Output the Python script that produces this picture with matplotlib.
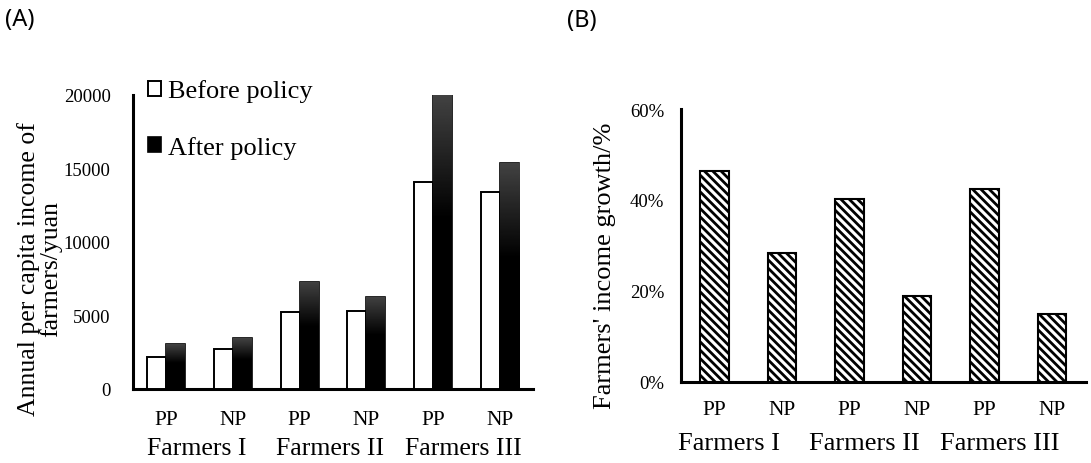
import numpy as np
import matplotlib.pyplot as plt
from matplotlib.ticker import PercentFormatter

# data
categories = ['PP', 'NP', 'PP', 'NP', 'PP', 'NP']
groups = ['Farmers I', 'Farmers II', 'Farmers III']
before = [2150, 2720, 5210, 5330, 14100, 13420]
after = [3060, 3450, 7300, 6280, 20000, 15350]
growth = [46.3, 28.3, 40.3, 18.8, 42.5, 14.9]

plt.rcParams['font.family'] = ['Liberation Serif', 'DejaVu Serif']
plt.rcParams['hatch.linewidth'] = 2.0

fig = plt.figure(figsize=(10.91, 4.64), dpi=100)
axA = fig.add_axes([133 / 1091, 74 / 464, 400 / 1091, 294 / 464])
axB = fig.add_axes([680.7 / 1091, 81.3 / 464, 405.3 / 1091, 272.7 / 464])

x = np.arange(len(categories))
w = 0.285

# ---- (A) income before / after
axA.bar(x - w / 2, before, w, color='white', edgecolor='black', linewidth=1.4,
        label='Before policy', zorder=3)
bars = axA.bar(x + w / 2, after, w, color='black', edgecolor='black', linewidth=1.2,
               label='After policy', zorder=3)

# dark gray -> black gradient on the "after" bars
t = np.linspace(0, 1, 200)[:, None]
grad = np.clip(0.26 * (1 - t / 0.42), 0, 1)
for b in bars:
    x0, y0 = b.get_x(), b.get_y()
    im = axA.imshow(grad, cmap='gray', vmin=0, vmax=1, aspect='auto', origin='upper',
                    extent=(x0, x0 + b.get_width(), y0, y0 + b.get_height()), zorder=3.5)
    im.set_clip_path(b)

axA.set_xlim(-0.5, 5.5)
axA.set_ylim(0, 20000)
axA.set_yticks([0, 5000, 10000, 15000, 20000])
axA.set_xticks(x, categories)
axA.set_ylabel('Annual per capita income of\nfarmers/yuan', fontsize=18.5, linespacing=0.95)
axA.yaxis.set_label_coords(-0.178, 0.41)

leg = axA.legend(loc='upper left', bbox_to_anchor=(0.037, 1.053), frameon=False, fontsize=19,
                 handlelength=0.5, handleheight=0.5, handletextpad=0.25, labelspacing=1.28,
                 borderpad=0, borderaxespad=0)

for i, g in enumerate(groups):
    axA.text(2 * i + 0.45, -0.2, g, transform=axA.get_xaxis_transform(),
             ha='center', va='center', fontsize=18.5)

# ---- (B) income growth
axB.bar(x, growth, 0.42, color='white', edgecolor='black', linewidth=1.5,
        hatch='\\\\\\\\', zorder=3)
axB.set_xlim(-0.5, 5.5)
axB.set_ylim(0, 60)
axB.set_yticks([0, 20, 40, 60])
axB.yaxis.set_major_formatter(PercentFormatter(decimals=0))
axB.set_xticks(x, categories)
axB.set_ylabel("Farmers' income growth/%", fontsize=19)
axB.yaxis.set_label_coords(-0.16, 0.43)

for i, g in enumerate(groups):
    axB.text(2 * i + 0.22, -0.225, g, transform=axB.get_xaxis_transform(),
             ha='center', va='center', fontsize=19)

for ax, ypad, xpad in ((axA, 16, 15), (axB, 12, 13)):
    for s in ('top', 'right'):
        ax.spines[s].set_visible(False)
    for s in ('left', 'bottom'):
        ax.spines[s].set_linewidth(2.2)
    ax.tick_params(axis='y', length=0, pad=ypad, labelsize=13.5)
    ax.tick_params(axis='x', length=0, pad=xpad, labelsize=15.5)

fig.text(5 / 1091, 1 - 20 / 464, '(A)', family='Noto Sans', fontsize=17, va='center')
fig.text(567 / 1091, 1 - 21 / 464, '(B)', family='Noto Sans', fontsize=17, va='center')

fig.savefig('out.png', dpi=100)
